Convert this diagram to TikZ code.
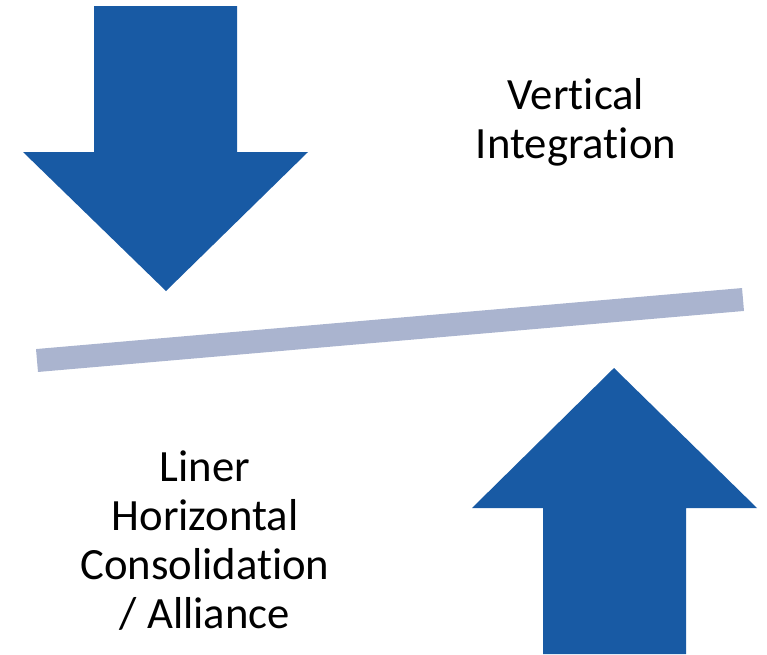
\documentclass[tikz,border=0pt]{standalone}
\usepackage{fontspec}
\setmainfont{Carlito}[Ligatures=NoCommon]
\usepackage{xcolor}
\usepackage{tikz}
\definecolor{arrowblue}{RGB}{24,90,164}
\definecolor{barblue}{RGB}{170,180,207}

\begin{document}
\begin{tikzpicture}[x=1pt,y=-1pt,
		bigarrow/.style={fill=arrowblue},
		caption/.style={align=center,inner sep=0pt,font=\fontsize{44.7}{49}\selectfont}]
		\useasboundingbox (0,0) rectangle (767,654);
		%
		\fill[bigarrow] (94,6) -- (237,6) -- (237,152) -- (308,152) -- (166,291)
			-- (23,152) -- (94,152) -- cycle;
		\fill[bigarrow] (543,654) -- (686,654) -- (686,508) -- (757,508) -- (614,368)
			-- (472,508) -- (543,508) -- cycle;
		%
		\coordinate (barL) at (37,360.5);
		\coordinate (barR) at (743,299.5);
		\draw[barblue,line width=23pt] (barL) -- (barR);
		%
		\node[caption] (vert) at (576,122) {Vertical\\Integration};
		\node[caption] (horiz) at (205,541) {Liner\\Horizontal\\Consolidation\\/ Alliance};
	\end{tikzpicture}
\end{document}
